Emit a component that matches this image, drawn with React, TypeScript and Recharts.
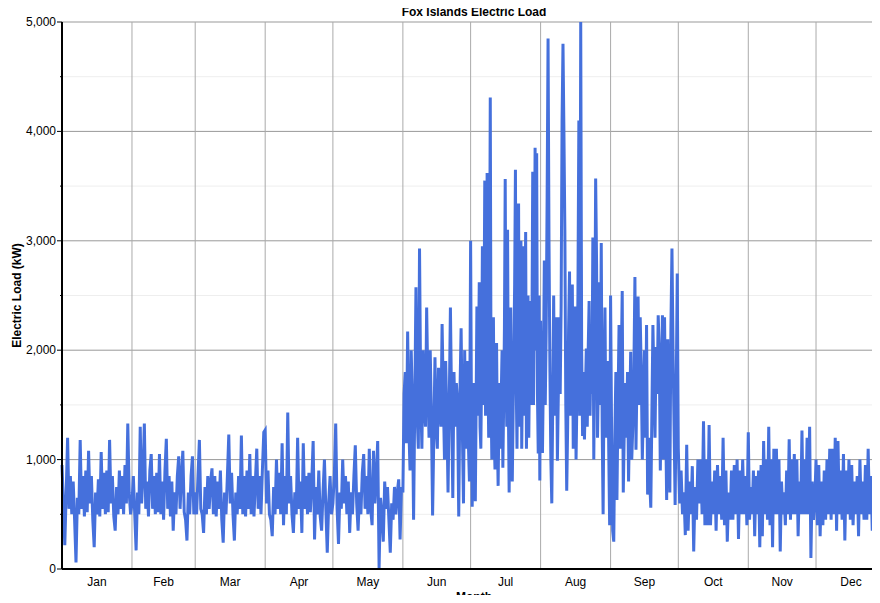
import React from 'react';
import { LineChart, Line, XAxis, YAxis, CartesianGrid } from 'recharts';

const MONTHS = ['Jan', 'Feb', 'Mar', 'Apr', 'May', 'Jun', 'Jul', 'Aug', 'Sep', 'Oct', 'Nov', 'Dec'];
const MONTH_DAYS = [31, 28, 31, 30, 31, 30, 31, 31, 30, 31, 30, 31];
const Y_TICKS = [0, 500, 1000, 1500, 2000, 2500, 3000, 3500, 4000, 4500, 5000];

// electric load in kW, month by month (evenly spaced within the month)
const JAN = [950, 600, 217, 700, 1200, 550, 850, 500, 800, 450, 60, 650, 500, 1180, 550, 850, 480, 900, 520, 1080, 600, 850, 450, 200, 700, 500, 820, 480, 1070, 550, 880, 500, 900, 520, 1180, 600, 850, 480, 350, 750, 500, 900, 550, 850, 500, 950, 600, 1330, 700, 500];
const FEB = [600, 850, 500, 170, 700, 500, 1300, 600, 850, 1330, 550, 800, 480, 900, 1050, 550, 850, 500, 880, 520, 1050, 500, 800, 450, 900, 1190, 550, 850, 480, 800, 350, 700, 500, 850, 1030, 550, 850, 1080, 520, 450, 260, 700, 500, 850, 1030, 500];
const MAR = [700, 500, 850, 1180, 550, 500, 330, 750, 500, 850, 550, 800, 920, 500, 850, 480, 800, 550, 900, 450, 240, 700, 500, 850, 1230, 600, 880, 500, 260, 700, 500, 850, 550, 1220, 500, 850, 480, 900, 550, 1050, 500, 850, 480, 800, 1100, 550, 850, 500, 900, 1250];
const APR = [1270, 600, 900, 500, 450, 300, 750, 500, 1000, 550, 880, 500, 1150, 400, 850, 500, 1430, 600, 850, 500, 330, 700, 500, 1200, 550, 800, 330, 1150, 550, 850, 500, 880, 520, 800, 1170, 270, 750, 500, 900, 480, 350, 700, 1000, 550, 150, 600, 850, 500];
const MAY = [600, 850, 1330, 550, 230, 700, 550, 1000, 600, 850, 500, 800, 330, 700, 500, 850, 1130, 600, 350, 700, 500, 880, 1050, 550, 850, 500, 1100, 550, 400, 1080, 600, 850, 1170, 10, 650, 500, 250, 800, 550, 750, 450, 150, 600, 450, 750, 500, 700, 820, 270, 750];
const JUN = [700, 1600, 1800, 1150, 2170, 1300, 900, 2000, 1500, 450, 1500, 2575, 1400, 1100, 2930, 1600, 1100, 2000, 1500, 1300, 2390, 1700, 1200, 2000, 1400, 490, 1200, 1935, 1300, 1100, 1840, 1500, 1300, 2240, 1600, 1000, 1900, 1400, 700, 1500, 2390, 1500, 650, 1800, 1300, 1700, 1500, 480, 1600, 2200, 1300, 600, 2000, 1100, 1900, 1200, 800];
const JUL = [3000, 1500, 570, 1200, 1700, 900, 620, 1500, 2400, 1400, 1900, 2620, 1300, 1100, 1800, 2950, 1500, 2200, 3550, 1400, 2000, 3620, 1800, 1200, 2200, 4310, 1600, 1000, 1800, 2300, 1200, 910, 1600, 2065, 1200, 760, 1400, 1700, 1100, 1600, 2000, 925, 1500, 2200, 3565, 1800, 1300, 3100, 1500, 700, 1600, 2390, 1300, 800, 1400, 2000, 2600, 3650, 1700, 1100, 2200, 3340, 1300, 2000, 3000, 1100, 1800, 2950, 1400, 2200, 3080, 1100, 1700, 2500, 1200, 2000, 2450, 1500, 2200, 3630, 1500, 2400, 3850, 2000, 3800, 1600, 1055, 2500, 810];
const AUG = [2270, 1500, 1060, 1800, 2820, 1500, 2200, 3400, 4850, 3000, 1800, 1000, 600, 1500, 2500, 1400, 1900, 2300, 990, 1600, 2300, 1600, 2400, 4090, 4800, 4000, 3100, 1500, 715, 1300, 2200, 2720, 1400, 2000, 2600, 1100, 1800, 2400, 1000, 1600, 2500, 4100, 1400, 5000, 2000, 1215, 1800, 1185, 1600, 2015, 1300, 2000, 2450, 1400, 2000, 1600, 3030, 1000, 2000, 3570, 2790, 1200, 1800, 2620, 1500, 2980, 1300, 500, 1700, 2390, 1200, 1800, 1900, 1100, 400];
const SEP = [2500, 1200, 350, 250, 1200, 1800, 630, 1500, 2230, 1100, 1800, 2540, 700, 1300, 1700, 1200, 1800, 800, 1400, 1985, 1000, 1300, 1800, 2670, 1090, 1800, 2490, 1500, 2300, 1800, 1000, 1500, 2000, 1200, 2230, 680, 1200, 800, 560, 1400, 2230, 1700, 1200, 2030, 1600, 2320, 2000, 900, 1600, 2320, 1000, 2300, 1400, 630, 2100, 1300, 700, 2200, 2930, 2000, 1300, 585, 1600, 2700];
const OCT = [1100, 600, 900, 500, 700, 310, 1135, 350, 800, 500, 940, 160, 750, 450, 1000, 600, 1000, 500, 1350, 400, 1000, 400, 1315, 400, 800, 500, 900, 350, 950, 500, 850, 450, 1200, 400, 900, 250, 700, 450, 900, 450, 950, 500, 1000, 275, 900, 500, 1000, 500, 850, 400];
const NOV = [1250, 450, 750, 500, 900, 300, 850, 500, 900, 200, 950, 300, 1170, 500, 1000, 450, 1300, 400, 1000, 200, 1100, 500, 1100, 500, 1000, 160, 800, 500, 700, 400, 900, 500, 1185, 450, 1000, 500, 1050, 500, 1000, 300, 800, 500, 1265, 500, 1000, 500, 1200, 500, 1300, 100, 800, 450, 600];
const DEC = [1000, 400, 950, 300, 800, 400, 900, 450, 1000, 500, 1100, 450, 1100, 500, 1200, 350, 1170, 500, 900, 450, 1050, 260, 900, 500, 1000, 450, 950, 400, 800, 500, 850, 300, 1000, 500, 800, 450, 950, 450, 1100, 500, 850, 350, 900, 500, 1100, 350, 1000, 300, 900, 450, 1000];

const LOAD_BY_MONTH = [JAN, FEB, MAR, APR, MAY, JUN, JUL, AUG, SEP, OCT, NOV, DEC];

const MONTH_STARTS = MONTH_DAYS.map((_, i) => MONTH_DAYS.slice(0, i).reduce((a, b) => a + b, 0));
const MONTH_MIDS = MONTH_STARTS.map((s, i) => s + MONTH_DAYS[i] / 2);

const data = LOAD_BY_MONTH.flatMap((vals, m) =>
	vals.map((kw, i) => ({ day: MONTH_STARTS[m] + (i * MONTH_DAYS[m]) / vals.length, kw }))
);

const FONT = '"Liberation Sans", Arial, Helvetica, sans-serif';

const YTick = (props: any) => {
	const { x, y, payload } = props;
	const major = payload.value % 1000 === 0;
	const axisX = x + 6;
	return (
		<g>
			<line x1={axisX - (major ? 5 : 2)} x2={axisX} y1={y} y2={y} stroke='#000' />
			{major && (
				<text x={x} y={y} dy={4} textAnchor='end' fontSize={12} fill='#000'>
					{payload.value.toLocaleString('en-US')}
				</text>
			)}
		</g>
	);
};

const NoTick = () => <g />;

const gridLine = (p: any) => (
	<line
		key={p.key}
		x1={p.x1}
		y1={p.y1}
		x2={p.x2}
		y2={p.y2}
		stroke={p.index % 2 === 0 ? '#999999' : '#eeeeee'}
		strokeWidth={1}
	/>
);

export default function App() {
	return (
		<div style={{ width: 872, height: 603, marginTop: -8, marginBottom: -8, overflow: 'hidden', fontFamily: FONT }}>
			<LineChart width={878} height={603} data={data} margin={{ top: 22, right: 0, bottom: 0, left: 0 }}>
				<text x={466} y={16} textAnchor='middle' fontSize={12} fontWeight='bold' fill='#000'>
					Fox Islands Electric Load
				</text>
				<text x={466} y={601} textAnchor='middle' fontSize={12} fontWeight='bold' fill='#000'>
					Month
				</text>
				<CartesianGrid xAxisId='grid' stroke='#aaaaaa' horizontal={gridLine} />
				<XAxis
					dataKey='day'
					type='number'
					domain={[0, 365]}
					ticks={MONTH_MIDS}
					tickFormatter={(v: number) => MONTHS[MONTH_MIDS.indexOf(v)] ?? ''}
					tickLine={false}
					axisLine={{ stroke: '#000', strokeWidth: 2 }}
					tick={{ fill: '#000', fontSize: 12 }}
					height={34}
				/>
				<XAxis
					xAxisId='grid'
					dataKey='day'
					type='number'
					domain={[0, 365]}
					ticks={MONTH_STARTS}
					interval={0}
					tick={<NoTick />}
					tickSize={5}
					tickLine={{ stroke: '#333' }}
					axisLine={false}
					height={0}
				/>
				<XAxis
					xAxisId='top'
					orientation='top'
					dataKey='day'
					type='number'
					domain={[0, 365]}
					tick={false}
					tickLine={false}
					axisLine={{ stroke: '#000', strokeWidth: 2 }}
					height={0}
				/>
				<YAxis
					type='number'
					domain={[0, 5000]}
					ticks={Y_TICKS}
					interval={0}
					width={54}
					tickSize={5}
					tickMargin={1}
					tickLine={false}
					tick={<YTick />}
					axisLine={{ stroke: '#000', strokeWidth: 2 }}
					label={{
						value: 'Electric Load (kW)',
						angle: -90,
						position: 'insideLeft',
						offset: 9,
						fill: '#000',
						fontSize: 12,
						fontWeight: 'bold',
						style: { textAnchor: 'middle' },
					}}
				/>
				<Line
					type='linear'
					dataKey='kw'
					stroke='#4570DC'
					strokeWidth={3}
					dot={false}
					activeDot={false}
					isAnimationActive={false}
				/>
			</LineChart>
		</div>
	);
}
